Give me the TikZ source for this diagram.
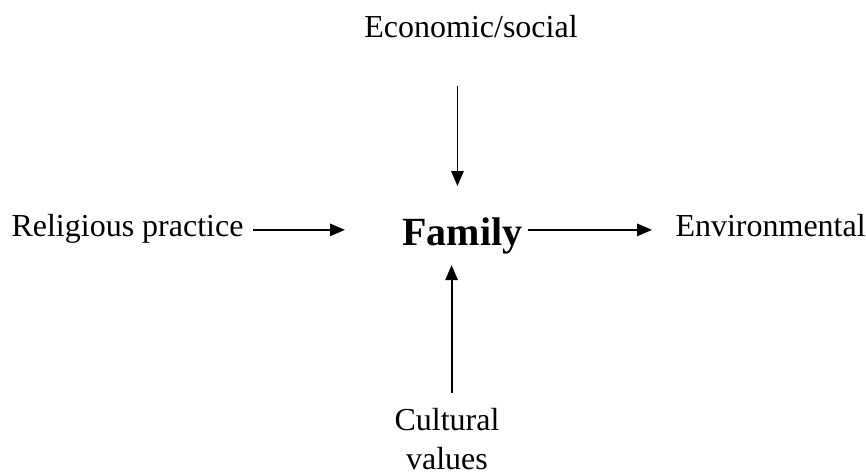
\documentclass[tikz,border=0pt]{standalone}
\usepackage{fontspec}
\setmainfont{Liberation Serif}
\usepackage{tikz}
\usetikzlibrary{arrows.meta, positioning, calc}

\begin{document}
\begin{tikzpicture}[x=0.375pt, y=-0.375pt,
        lbl/.style={inner sep=0pt, font=\fontsize{12}{14.5}\selectfont},
        arr/.style={line width=0.7pt, -{Triangle[length=5.6pt, width=4.6pt]}}]
        \useasboundingbox (0, 0) rectangle (866, 472);

        % Centre
        \node[inner sep=0pt, anchor=base west, font=\fontsize{15}{18}\bfseries] (family) at (402, 245) {Family};

        % Influences
        \node[lbl, anchor=base] (econ) at (471, 37) {Economic/social};
        \node[lbl, anchor=base west] (relig) at (11, 236) {Religious practice};
        \node[lbl, anchor=base west] (envir) at (675, 236) {Environmental};
        \node[lbl, anchor=north, align=center] (cult) at (447, 408) {Cultural\\values};

        % Arrows
        \draw[arr, shorten <=18pt, shorten >=11.5pt] ([xshift=-1.9pt]econ.south -| family.north) -- ([xshift=-1.9pt]family.north);
        \draw[arr, shorten <=3.4pt, shorten >=21.4pt] (relig.mid east) -- (relig.mid east -| family.west);
        \draw[arr, shorten <=1.9pt, shorten >=8.6pt] (envir.mid west -| family.east) -- (envir.mid west);
        \draw[arr, shorten <=5.6pt, shorten >=4.1pt] ([xshift=-4.1pt]cult.north -| family.south) -- ([xshift=-4.1pt]family.south);

    \end{tikzpicture}
\end{document}
